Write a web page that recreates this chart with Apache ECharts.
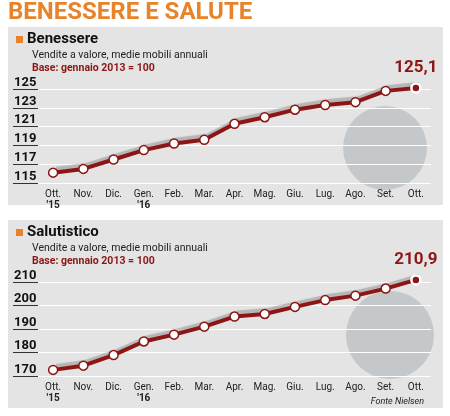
<!DOCTYPE html>
<html>
<head>
<meta charset="utf-8">
<script src="https://cdn.jsdelivr.net/npm/echarts@6/dist/echarts.min.js"></script>
<style>
  html, body { margin: 0; padding: 0; background: #fff; }
  #chart { width: 450px; height: 416px; }
</style>
</head>
<body>
<div id="chart"></div>
<script>
// dati
const months = ['Ott.', 'Nov.', 'Dic.', 'Gen.', 'Feb.', 'Mar.', 'Apr.', 'Mag.', 'Giu.', 'Lug.', 'Ago.', 'Set.', 'Ott.']
const years = ['15', '', '', '16', '', '', '', '', '', '', '', '', '']
const benessere = [116.1, 116.5, 117.5, 118.5, 119.2, 119.6, 121.3, 122.0, 122.8, 123.3, 123.6, 124.8, 125.1]
const salutistico = [172.6, 174.4, 178.9, 184.7, 187.6, 191.0, 195.3, 196.4, 199.4, 202.3, 204.2, 207.2, 210.9]

const RED = '#8c1515'
const chart = echarts.init(document.getElementById('chart'))

const xAxisFor = (gi) => ({
  type: 'category',
  gridIndex: gi,
  data: months.map((m, i) => years[i] ? m + '\n{y|\'' + years[i] + '}' : m),
  axisLine: { show: false },
  axisTick: { show: false },
  axisLabel: {
    interval: 0, hideOverlap: false,
    color: '#222', fontSize: 10, fontFamily: '"Liberation Sans Narrow", Roboto', lineHeight: 11,
    verticalAlign: 'top', margin: 6,
    rich: { y: { fontWeight: 'bold', fontSize: 10, color: '#222' } }
  }
})

const yAxisFor = (gi, min, max, step) => ({
  type: 'value',
  gridIndex: gi,
  min: min, max: max, interval: step,
  axisLine: { show: false },
  axisTick: { show: true, length: 25, lineStyle: { color: '#333', width: 1 } },
  axisLabel: {
    margin: 24, align: 'left', verticalAlign: 'bottom',
    color: '#111', fontWeight: 'bold', fontSize: 13, fontFamily: 'Roboto'
  },
  splitLine: { lineStyle: { color: '#fff', width: 1 } }
})

const seriesFor = (gi, data) => ({
  type: 'line',
  xAxisIndex: gi, yAxisIndex: gi,
  data: data.map((v, i) => i === data.length - 1
    ? { value: v, itemStyle: { color: RED, borderColor: '#fff', borderWidth: 2.5 } }
    : v),
  clip: false,
  symbol: 'circle', symbolSize: 9,
  itemStyle: { color: '#fff', borderColor: RED, borderWidth: 1.5 },
  lineStyle: { color: RED, width: 4, shadowColor: 'rgba(150,150,150,0.6)', shadowOffsetX: 3, shadowOffsetY: -4, shadowBlur: 1 },
  label: {
    show: true, position: 'top', distance: 6,
    color: RED, fontWeight: 'bold', fontSize: 17, fontFamily: 'Roboto',
    formatter: (p) => p.dataIndex === data.length - 1 ? String(p.value).replace('.', ',') : ''
  },
  z: 5
})

const header = (top, name) => [
  { type: 'rect', shape: { x: 16, y: top + 4, width: 7, height: 7 }, style: { fill: '#e8832a' } },
  { type: 'text', left: 27, top: top, style: { text: name, font: 'bold 15px Roboto', fill: '#111' } },
  { type: 'text', left: 32, top: top + 18, style: { text: 'Vendite a valore, medie mobili annuali', font: '10.5px "Liberation Sans Narrow", Roboto', fill: '#222' } },
  { type: 'text', left: 32, top: top + 31, style: { text: 'Base: gennaio 2013 = 100', font: 'bold 10.5px "Liberation Sans Narrow", Roboto', fill: RED } }
]

chart.setOption({
  animation: false,
  graphic: [
    { type: 'rect', shape: { x: 8, y: 27, width: 435, height: 178 }, style: { fill: '#e4e4e4' }, z: -10 },
    { type: 'rect', shape: { x: 8, y: 220, width: 435, height: 188 }, style: { fill: '#e4e4e4' }, z: -10 },
    { type: 'circle', shape: { cx: 385, cy: 148, r: 42 }, style: { fill: '#c5c8ca' }, z: -5 },
    { type: 'circle', shape: { cx: 390, cy: 335, r: 44 }, style: { fill: '#c5c8ca' }, z: -5 },
    { type: 'text', left: 8, top: 1, style: { text: 'BENESSERE E SALUTE', font: 'bold 24px "Liberation Sans Narrow", Roboto', fill: '#e8832a' } },
    { type: 'text', right: 26, top: 397, style: { text: 'Fonte Nielsen', font: 'italic 9px "Liberation Sans Narrow", Roboto', fill: '#222' } },
    ...header(32, 'Benessere'),
    ...header(225, 'Salutistico')
  ],
  grid: [
    { left: 38, right: 19, top: 89, height: 94 },
    { left: 38, right: 19, top: 282, height: 94 }
  ],
  xAxis: [xAxisFor(0), xAxisFor(1)],
  yAxis: [yAxisFor(0, 115, 125, 2), yAxisFor(1, 170, 210, 10)],
  series: [seriesFor(0, benessere), seriesFor(1, salutistico)]
})
</script>
</body>
</html>
